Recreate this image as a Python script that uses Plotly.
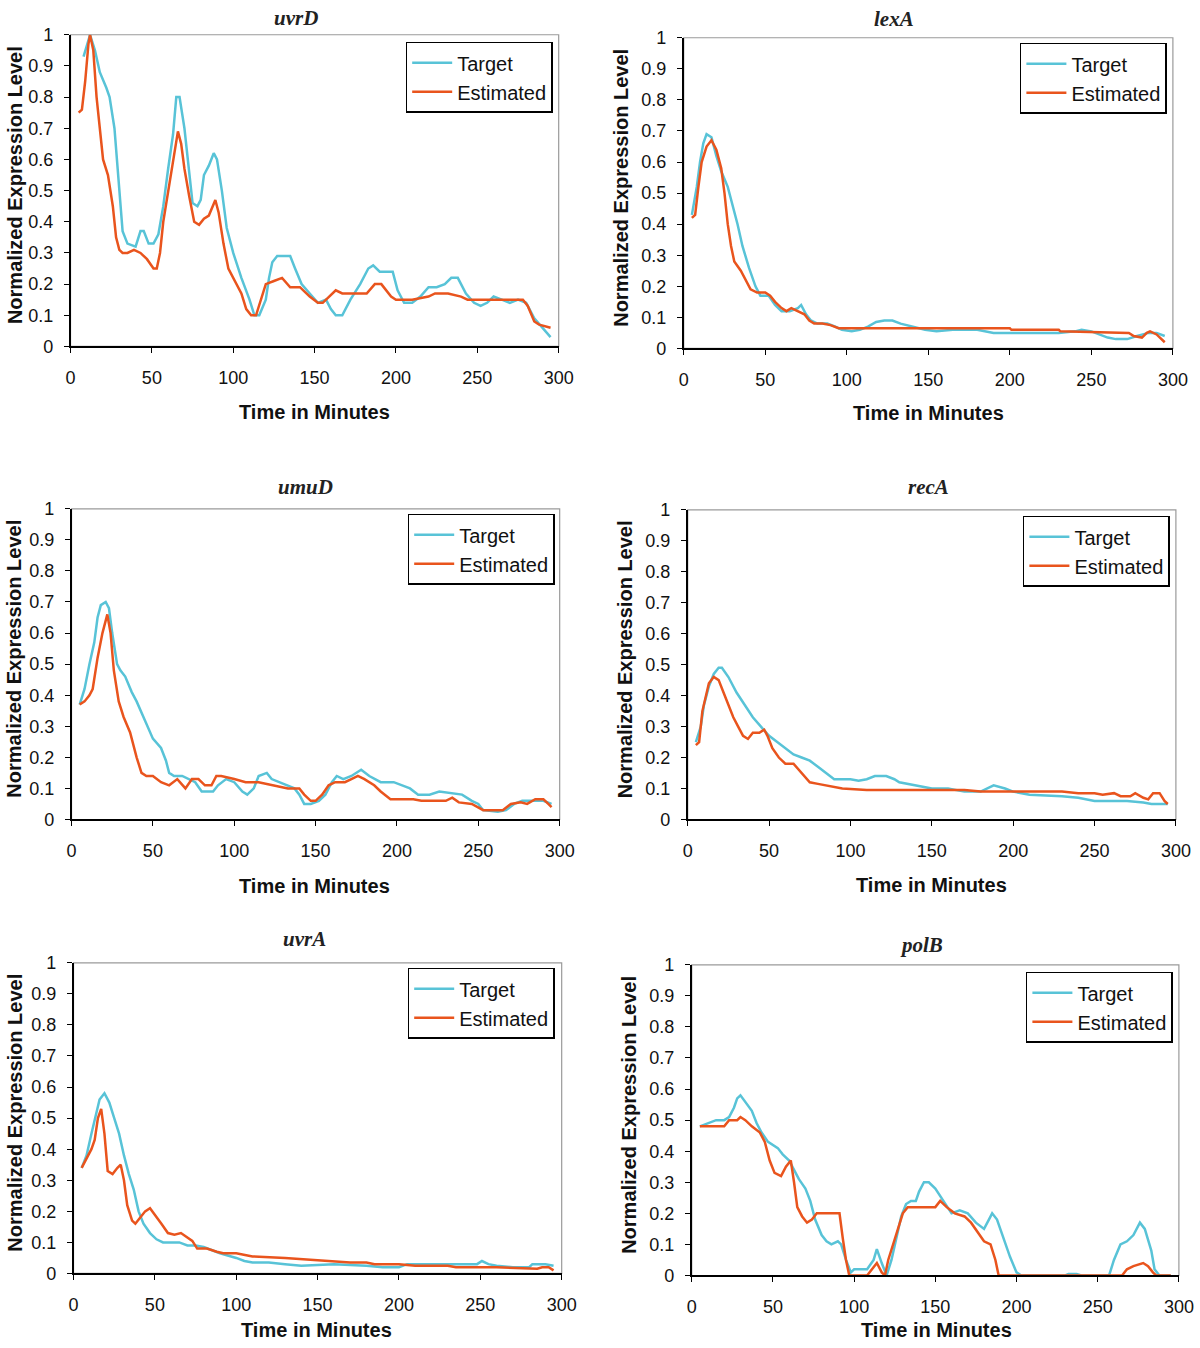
import plotly.graph_objects as go

# the photographed page comes out slightly shrunk toward its centre; positions below are in
# reference-picture pixels and are mapped back to figure pixels with this factor and offset
S = 0.983
AX, AY = 8.5, 11.3
FW, FH = 1200, 1348

genes = ['uvrD', 'lexA', 'umuD', 'recA', 'uvrA', 'polB']

# uvrD
uvrd_target_t = [8, 12, 15, 18, 22, 24, 27, 30, 32, 35, 40, 43, 45, 48, 51, 54, 57, 60, 63, 65, 67, 70, 73, 75, 78, 80,
                 82, 85, 88, 90, 93, 96, 100, 105, 110, 113, 116, 120, 122, 124, 127, 135, 138, 142, 147, 152, 157,
                 160, 163, 167, 172, 178, 183, 186, 190, 198, 201, 205, 210, 215, 220, 225, 230, 234, 238, 243, 248,
                 252, 256, 260, 265, 270, 275, 280, 285, 290, 295]
uvrd_target = [0.93, 1.0, 0.95, 0.88, 0.83, 0.8, 0.7, 0.5, 0.37, 0.33, 0.32, 0.37, 0.37, 0.33, 0.33, 0.36, 0.45, 0.57,
               0.68, 0.8, 0.8, 0.7, 0.55, 0.46, 0.45, 0.47, 0.55, 0.58, 0.62, 0.6, 0.5, 0.38, 0.3, 0.22, 0.15, 0.1,
               0.1, 0.15, 0.22, 0.27, 0.29, 0.29, 0.25, 0.2, 0.17, 0.14, 0.15, 0.12, 0.1, 0.1, 0.15, 0.2, 0.25, 0.26,
               0.24, 0.24, 0.18, 0.14, 0.14, 0.16, 0.19, 0.19, 0.2, 0.22, 0.22, 0.17, 0.14, 0.13, 0.14, 0.16, 0.15,
               0.14, 0.15, 0.14, 0.09, 0.06, 0.03]
uvrd_est_t = [5, 7, 9, 11, 12, 14, 16, 18, 20, 23, 26, 28, 30, 32, 35, 39, 43, 47, 51, 53, 55, 57, 60, 63, 66, 68, 70,
              73, 76, 79, 82, 85, 88, 89, 91, 94, 97, 100, 105, 108, 111, 114, 117, 120, 125, 130, 135, 141, 147,
              152, 155, 159, 163, 167, 175, 182, 187, 191, 197, 200, 210, 220, 224, 232, 240, 244, 250, 260, 270,
              278, 281, 285, 288, 295]
uvrd_est = [0.75, 0.76, 0.85, 0.97, 1.0, 0.95, 0.8, 0.7, 0.6, 0.55, 0.45, 0.35, 0.31, 0.3, 0.3, 0.31, 0.3, 0.28,
            0.25, 0.25, 0.3, 0.4, 0.5, 0.6, 0.69, 0.65, 0.57, 0.48, 0.4, 0.39, 0.41, 0.42, 0.46, 0.47, 0.43, 0.33,
            0.25, 0.22, 0.17, 0.12, 0.1, 0.1, 0.15, 0.2, 0.21, 0.22, 0.19, 0.19, 0.16, 0.14, 0.14, 0.16, 0.18, 0.17,
            0.17, 0.17, 0.2, 0.2, 0.16, 0.15, 0.15, 0.16, 0.17, 0.17, 0.16, 0.15, 0.15, 0.15, 0.15, 0.15, 0.13,
            0.08, 0.07, 0.06]

# lexA
lexa_target_t = [5, 8, 10, 12, 14, 17, 20, 23, 27, 30, 33, 36, 40, 44, 47, 52, 56, 60, 65, 70, 72, 75, 78, 82, 88, 93,
                 97, 103, 108, 113, 118, 123, 128, 133, 140, 148, 155, 165, 180, 190, 200, 230, 240, 244, 250, 255,
                 260, 265, 272, 278, 285, 290, 295]
lexa_target = [0.43, 0.52, 0.6, 0.66, 0.69, 0.68, 0.62, 0.57, 0.52, 0.46, 0.4, 0.33, 0.26, 0.2, 0.17, 0.17, 0.14,
               0.12, 0.12, 0.13, 0.14, 0.11, 0.09, 0.08, 0.08, 0.07, 0.06, 0.055, 0.06, 0.07, 0.085, 0.09, 0.09, 0.08,
               0.07, 0.06, 0.055, 0.06, 0.06, 0.05, 0.05, 0.05, 0.055, 0.06, 0.055, 0.045, 0.035, 0.03, 0.03, 0.04,
               0.05, 0.05, 0.04]
lexa_est_t = [5, 7, 9, 11, 14, 17, 20, 23, 25, 27, 29, 31, 35, 38, 41, 45, 50, 53, 56, 60, 63, 66, 70, 74, 77, 80, 85,
              90, 95, 100, 150, 200, 201, 230, 231, 260, 266, 273, 276, 281, 284, 286, 290, 293, 295]
lexa_est = [0.42, 0.43, 0.52, 0.6, 0.65, 0.67, 0.64, 0.58, 0.5, 0.4, 0.33, 0.28, 0.25, 0.22, 0.19, 0.18, 0.18, 0.17,
            0.15, 0.13, 0.12, 0.13, 0.12, 0.11, 0.09, 0.08, 0.08, 0.075, 0.065, 0.065, 0.065, 0.065, 0.06, 0.06,
            0.055, 0.05, 0.05, 0.05, 0.04, 0.035, 0.05, 0.055, 0.045, 0.03, 0.02]

# umuD
umud_target_t = [5, 8, 11, 14, 16, 18, 21, 23, 25, 28, 30, 33, 37, 40, 45, 50, 55, 58, 60, 63, 68, 72, 76, 80, 87, 90,
                 95, 100, 105, 108, 112, 115, 120, 123, 128, 133, 137, 140, 143, 147, 152, 156, 160, 163, 167, 172,
                 178, 183, 190, 198, 203, 208, 213, 220, 226, 235, 240, 246, 250, 253, 262, 267, 272, 277, 285, 290,
                 295]
umud_target = [0.37, 0.42, 0.5, 0.57, 0.65, 0.69, 0.7, 0.68, 0.6, 0.5, 0.48, 0.46, 0.41, 0.38, 0.32, 0.26, 0.23,
               0.19, 0.15, 0.14, 0.14, 0.13, 0.12, 0.09, 0.09, 0.11, 0.13, 0.12, 0.09, 0.08, 0.1, 0.14, 0.15, 0.13,
               0.12, 0.11, 0.1, 0.08, 0.05, 0.05, 0.06, 0.08, 0.12, 0.14, 0.13, 0.14, 0.16, 0.14, 0.12, 0.12, 0.11,
               0.1, 0.08, 0.08, 0.09, 0.085, 0.08, 0.06, 0.05, 0.03, 0.025, 0.03, 0.05, 0.06, 0.06, 0.06, 0.05]
umud_est_t = [5, 8, 11, 13, 16, 19, 22, 24, 26, 29, 32, 36, 40, 43, 46, 50, 55, 60, 65, 70, 74, 78, 82, 86, 89, 92, 100,
              107, 115, 125, 133, 140, 143, 147, 150, 154, 158, 162, 168, 172, 176, 180, 186, 190, 196, 203, 210,
              215, 230, 234, 238, 246, 250, 253, 265, 270, 276, 280, 285, 290, 293, 295]
umud_est = [0.37, 0.38, 0.4, 0.42, 0.52, 0.6, 0.66, 0.6, 0.48, 0.38, 0.33, 0.28, 0.2, 0.15, 0.14, 0.14, 0.12, 0.11,
            0.13, 0.1, 0.13, 0.13, 0.11, 0.11, 0.14, 0.14, 0.13, 0.12, 0.12, 0.11, 0.1, 0.1, 0.08, 0.06, 0.06, 0.08,
            0.11, 0.12, 0.12, 0.13, 0.14, 0.13, 0.11, 0.09, 0.065, 0.065, 0.065, 0.06, 0.06, 0.07, 0.055, 0.05, 0.04,
            0.03, 0.03, 0.05, 0.055, 0.05, 0.065, 0.065, 0.05, 0.04]

# recA
reca_target_t = [5, 8, 10, 13, 16, 19, 21, 25, 30, 35, 40, 45, 50, 55, 60, 65, 70, 75, 80, 85, 90, 100, 105, 110, 115,
                 122, 127, 130, 140, 150, 160, 170, 180, 184, 188, 195, 200, 210, 230, 240, 250, 260, 270, 280, 285,
                 290, 295]
reca_target = [0.25, 0.3, 0.37, 0.43, 0.47, 0.49, 0.49, 0.46, 0.41, 0.37, 0.33, 0.3, 0.27, 0.25, 0.23, 0.21, 0.2,
               0.19, 0.17, 0.15, 0.13, 0.13, 0.125, 0.13, 0.14, 0.14, 0.13, 0.12, 0.11, 0.1, 0.1, 0.09, 0.09, 0.1,
               0.11, 0.1, 0.09, 0.08, 0.075, 0.07, 0.06, 0.06, 0.06, 0.055, 0.05, 0.05, 0.05]
reca_est_t = [5, 7, 9, 11, 13, 16, 19, 22, 25, 28, 31, 34, 37, 40, 44, 47, 49, 52, 56, 60, 65, 70, 75, 80, 85, 90, 95,
              110, 150, 170, 180, 200, 230, 240, 250, 255, 262, 266, 272, 275, 280, 283, 286, 290, 293, 295]
reca_est = [0.24, 0.25, 0.35, 0.4, 0.44, 0.46, 0.45, 0.41, 0.37, 0.33, 0.3, 0.27, 0.26, 0.28, 0.28, 0.29, 0.27, 0.23,
            0.2, 0.18, 0.18, 0.15, 0.12, 0.115, 0.11, 0.105, 0.1, 0.095, 0.095, 0.095, 0.09, 0.09, 0.09, 0.085, 0.085,
            0.08, 0.085, 0.075, 0.075, 0.085, 0.07, 0.065, 0.085, 0.085, 0.06, 0.05]

# uvrA
uvra_target_t = [5, 8, 11, 14, 16, 19, 22, 25, 28, 31, 34, 37, 40, 43, 47, 51, 55, 60, 65, 70, 75, 80, 90, 100, 105,
                 110, 120, 130, 140, 160, 180, 190, 200, 205, 220, 230, 240, 248, 251, 255, 260, 270, 280, 282, 290,
                 295]
uvra_target = [0.34, 0.38, 0.45, 0.52, 0.56, 0.58, 0.55, 0.5, 0.45, 0.38, 0.32, 0.27, 0.2, 0.16, 0.13, 0.11, 0.1, 0.1,
               0.1, 0.09, 0.09, 0.085, 0.065, 0.05, 0.04, 0.035, 0.035, 0.03, 0.025, 0.03, 0.025, 0.02, 0.02, 0.03,
               0.03, 0.03, 0.03, 0.03, 0.04, 0.03, 0.025, 0.02, 0.02, 0.03, 0.03, 0.025]
uvra_est_t = [5, 8, 11, 13, 15, 17, 19, 21, 24, 27, 29, 31, 33, 36, 38, 41, 44, 47, 50, 54, 58, 62, 66, 70, 73, 76, 82,
              88, 92, 100, 105, 110, 130, 145, 155, 160, 170, 180, 185, 200, 210, 230, 235, 260, 280, 285, 288, 292,
              295]
uvra_est = [0.34, 0.37, 0.4, 0.43, 0.5, 0.53, 0.45, 0.33, 0.32, 0.34, 0.35, 0.3, 0.22, 0.17, 0.16, 0.18, 0.2, 0.21,
            0.19, 0.16, 0.13, 0.125, 0.13, 0.115, 0.105, 0.08, 0.08, 0.07, 0.065, 0.065, 0.06, 0.055, 0.05, 0.045,
            0.04, 0.04, 0.035, 0.035, 0.03, 0.03, 0.025, 0.025, 0.02, 0.02, 0.015, 0.015, 0.02, 0.02, 0.01]

# polB
polb_target_t = [5, 10, 15, 20, 23, 26, 28, 30, 33, 37, 40, 43, 47, 50, 53, 56, 60, 63, 66, 70, 73, 76, 80, 83, 86, 90,
                 92, 95, 98, 100, 103, 108, 112, 114, 117, 120, 123, 126, 129, 132, 135, 138, 140, 143, 146, 150, 155,
                 160, 165, 170, 175, 180, 183, 185, 188, 192, 196, 200, 203, 230, 232, 237, 240, 257, 260, 264, 268,
                 272, 276, 279, 283, 285, 288, 295]
polb_target = [0.48, 0.49, 0.5, 0.5, 0.51, 0.54, 0.57, 0.58, 0.56, 0.53, 0.49, 0.46, 0.43, 0.42, 0.41, 0.39, 0.37,
               0.34, 0.31, 0.28, 0.24, 0.18, 0.13, 0.11, 0.1, 0.11, 0.1, 0.05, 0.01, 0.02, 0.02, 0.02, 0.05, 0.085,
               0.04, 0.0, 0.05, 0.12, 0.19, 0.23, 0.24, 0.24, 0.27, 0.3, 0.3, 0.28, 0.24, 0.2, 0.21, 0.2, 0.17, 0.15,
               0.18, 0.2, 0.18, 0.12, 0.06, 0.01, 0.0, 0.0, 0.005, 0.005, 0.0, 0.0, 0.05, 0.1, 0.11, 0.13, 0.17, 0.15,
               0.08, 0.02, 0.0, 0.0]
polb_est_t = [5, 10, 20, 23, 28, 30, 33, 37, 42, 45, 48, 51, 55, 58, 61, 63, 65, 68, 71, 74, 77, 80, 85, 91, 93, 95, 97,
              100, 108, 111, 114, 117, 119, 121, 125, 130, 133, 140, 150, 153, 157, 162, 168, 172, 176, 180, 184,
              187, 189, 200, 265, 268, 272, 278, 281, 284, 286, 295]
polb_est = [0.48, 0.48, 0.48, 0.5, 0.5, 0.51, 0.5, 0.48, 0.46, 0.43, 0.37, 0.33, 0.32, 0.35, 0.37, 0.3, 0.22, 0.19,
            0.17, 0.18, 0.2, 0.2, 0.2, 0.2, 0.12, 0.05, 0.0, 0.0, 0.0, 0.02, 0.04, 0.01, 0.0, 0.05, 0.12, 0.2, 0.22,
            0.22, 0.22, 0.24, 0.22, 0.2, 0.19, 0.17, 0.14, 0.11, 0.1, 0.05, 0.0, 0.0, 0.0, 0.02, 0.03, 0.04, 0.03,
            0.01, 0.0, 0.0]

series = {
    'uvrD': (uvrd_target_t, uvrd_target, uvrd_est_t, uvrd_est),
    'lexA': (lexa_target_t, lexa_target, lexa_est_t, lexa_est),
    'umuD': (umud_target_t, umud_target, umud_est_t, umud_est),
    'recA': (reca_target_t, reca_target, reca_est_t, reca_est),
    'uvrA': (uvra_target_t, uvra_target, uvra_est_t, uvra_est),
    'polB': (polb_target_t, polb_target, polb_est_t, polb_est),
}

# plot area (left, right, top, bottom) in reference pixels
boxes = {
    'uvrD': (74, 562, 36, 347),
    'lexA': (687, 1176, 39, 349),
    'umuD': (75, 563, 509, 819),
    'recA': (691, 1179, 510, 819),
    'uvrA': (77, 565, 962, 1272),
    'polB': (695, 1182, 964, 1274),
}
legend_pos = {  # right edge, top
    'uvrD': (556, 43), 'lexA': (1170, 44), 'umuD': (558, 514),
    'recA': (1173, 516), 'uvrA': (558, 967), 'polB': (1176, 971),
}
# titles of the top row and the x titles of the bottom row sit a little inside the picture edge
title_xy = {'uvrD': (299, 19), 'lexA': (897, 20), 'umuD': (309, 487),
            'recA': (932, 487), 'uvrA': (308, 938), 'polB': (925, 944)}
xtitle_xy = {'uvrD': (318, 412), 'lexA': (932, 413), 'umuD': (318, 885),
             'recA': (935, 884), 'uvrA': (320, 1328), 'polB': (940, 1328)}
ytitle_x = {'uvrD': 18, 'lexA': 624, 'umuD': 18, 'recA': 628, 'uvrA': 19, 'polB': 632}


def fx(p):
    return (p - AX) / S / FW


def fy(p):
    return 1 - (p - AY) / S / FH


CYAN = '#58c3d7'
ORANGE = '#e9541d'
SANS = 'Liberation Sans, Arial'
TICK_FONT = dict(family=SANS, size=18, color='#111')

fig = go.Figure()
annotations = []
shapes = []

for i, g in enumerate(genes):
    n = i + 1
    xa = 'x' if n == 1 else f'x{n}'
    ya = 'y' if n == 1 else f'y{n}'
    lg = 'legend' if n == 1 else f'legend{n}'
    tt, tv, et, ev = series[g]
    fig.add_trace(go.Scatter(x=tt, y=tv, mode='lines', name='Target', xaxis=xa, yaxis=ya,
                             line=dict(color=CYAN, width=2.5), legend=lg, legendgroup=g + 't'))
    fig.add_trace(go.Scatter(x=et, y=ev, mode='lines', name='Estimated', xaxis=xa, yaxis=ya,
                             line=dict(color=ORANGE, width=2.5), legend=lg, legendgroup=g + 'e'))

    l, r, t, b = boxes[g]
    axis_common = dict(showgrid=False, zeroline=False, showline=True, linecolor='black', linewidth=1.5,
                       ticks='outside', ticklen=5, tickcolor='black', tickwidth=1.2, tickfont=TICK_FONT)
    fig.layout[xa.replace('x', 'xaxis')] = dict(domain=[fx(l), fx(r)], range=[0, 300],
                                                tickvals=list(range(0, 301, 50)), anchor=ya,
                                                ticklabelstandoff=9, **axis_common)
    fig.layout[ya.replace('y', 'yaxis')] = dict(domain=[fy(b), fy(t)], range=[0, 1],
                                                tickvals=[k / 10 for k in range(11)],
                                                ticktext=['0'] + [f'0.{k}' for k in range(1, 10)] + ['1'],
                                                anchor=xa, ticklabelstandoff=7, **axis_common)
    # light frame on top/right of the plot area
    shapes.append(dict(type='rect', xref=f'{xa} domain', yref=f'{ya} domain', x0=0, x1=1, y0=0, y1=1,
                       line=dict(color='#9a9a9a', width=1.2), layer='below'))

    lx, ly = legend_pos[g]
    fig.layout[lg] = dict(x=fx(lx), y=fy(ly), xanchor='right', yanchor='top', xref='paper', yref='paper',
                          bordercolor='black', borderwidth=1.5, bgcolor='white', itemwidth=40,
                          font=dict(family=SANS, size=20, color='#111'), tracegroupgap=0)

    tx, ty = title_xy[g]
    annotations.append(dict(text=f'<b><i>{g}</i></b>', x=fx(tx), y=fy(ty), xref='paper', yref='paper',
                            showarrow=False, xanchor='center', yanchor='middle',
                            font=dict(family='Liberation Serif, Times New Roman', size=21, color='#222')))
    xx, xy = xtitle_xy[g]
    annotations.append(dict(text='<b>Time in Minutes</b>', x=fx(xx), y=fy(xy), xref='paper',
                            yref='paper', showarrow=False, xanchor='center', yanchor='middle',
                            font=dict(family=SANS, size=20, color='#111')))
    annotations.append(dict(text='<b>Normalized Expression Level</b>', x=fx(ytitle_x[g]), y=fy((t + b) / 2 - 5),
                            xref='paper', yref='paper', showarrow=False, textangle=-90,
                            xanchor='center', yanchor='middle',
                            font=dict(family=SANS, size=20, color='#111')))

fig.update_layout(width=FW, height=FH, margin=dict(l=0, r=0, t=0, b=0), plot_bgcolor='white',
                  paper_bgcolor='white', annotations=annotations, shapes=shapes, showlegend=True)

# drop the default body margin so the figure sits at the window's top-left corner
fig.write_html('out.html', config={'displayModeBar': False},
               post_script="document.body.style.margin='0';"
                           "document.documentElement.style.overflow='hidden';")
